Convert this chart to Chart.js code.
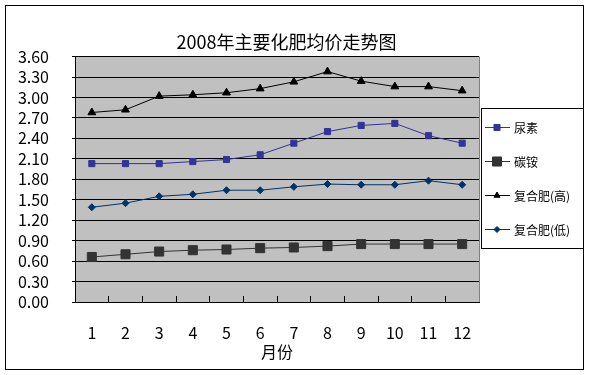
<!DOCTYPE html>
<html>
<head>
<meta charset="utf-8">
<script src="https://cdn.jsdelivr.net/npm/chart.js@4.4.1/dist/chart.umd.min.js"></script>
<style>
  html, body { margin: 0; padding: 0; background: #fff; }
</style>
</head>
<body>
<canvas id="grafico" width="590" height="375"></canvas>
<script>
const meses = ["1", "2", "3", "4", "5", "6", "7", "8", "9", "10", "11", "12"];
const niaosu = [2.03, 2.03, 2.03, 2.06, 2.09, 2.16, 2.33, 2.50, 2.59, 2.62, 2.44, 2.33];
const tanan = [0.66, 0.70, 0.74, 0.76, 0.77, 0.79, 0.80, 0.82, 0.85, 0.85, 0.85, 0.85];
const fuheGao = [2.78, 2.82, 3.02, 3.04, 3.07, 3.13, 3.23, 3.38, 3.24, 3.16, 3.16, 3.10];
const fuheDi = [1.39, 1.45, 1.55, 1.58, 1.64, 1.64, 1.69, 1.73, 1.72, 1.72, 1.78, 1.72];

Chart.defaults.font.family = '"Noto Sans CJK SC", sans-serif';
Chart.defaults.color = "#000";

// fundo cinza da área do gráfico + moldura externa
const moldura = {
  id: "moldura",
  beforeDraw(chart) {
    const ctx = chart.ctx, a = chart.chartArea;
    ctx.save();
    ctx.fillStyle = "#fff";
    ctx.fillRect(0, 0, chart.width, chart.height);
    ctx.fillStyle = "#c0c0c0";
    ctx.fillRect(a.left, a.top, a.right - a.left, a.bottom - a.top);
    ctx.restore();
  },
  afterDraw(chart) {
    const ctx = chart.ctx, a = chart.chartArea;
    ctx.save();
    ctx.strokeStyle = "#808080";
    ctx.lineWidth = 1;
    ctx.beginPath();
    ctx.moveTo(Math.round(a.right) + 0.5, a.top);
    ctx.lineTo(Math.round(a.right) + 0.5, a.bottom);
    ctx.stroke();
    ctx.strokeStyle = "#000";
    ctx.strokeRect(5.5, 5.5, 578, 364);
    ctx.restore();
  }
};

// legenda em caixa, com linha + marcador
const legenda = {
  id: "legenda",
  afterDraw(chart) {
    const ctx = chart.ctx;
    const x0 = Math.round(chart.chartArea.right) + 2;
    ctx.save();
    ctx.fillStyle = "#fff";
    ctx.fillRect(x0 + 0.5, 108.5, 583 - x0, 140);
    ctx.strokeStyle = "#000";
    ctx.lineWidth = 1;
    ctx.strokeRect(x0 + 0.5, 108.5, 583 - x0, 140);
    ctx.font = '12px "Noto Sans CJK SC", sans-serif';
    ctx.textBaseline = "middle";
    chart.data.datasets.forEach((ds, i) => {
      const y = 127 + i * 34;
      ctx.strokeStyle = ds.borderColor;
      ctx.lineWidth = 1;
      ctx.beginPath();
      ctx.moveTo(x0 + 4, y + 0.5);
      ctx.lineTo(x0 + 29, y + 0.5);
      ctx.stroke();
      ctx.fillStyle = ds.pointBackgroundColor;
      ctx.strokeStyle = ds.pointBorderColor;
      Chart.helpers.drawPoint(ctx, {
        pointStyle: ds.pointStyle, rotation: 0,
        radius: ds.legendRadius, borderWidth: 1
      }, x0 + 16, y + 0.5);
      ctx.fillStyle = "#000";
      ctx.fillText(ds.label, x0 + 33, y + 1);
    });
    ctx.restore();
  }
};

new Chart(document.getElementById("grafico"), {
  type: "line",
  data: {
    labels: meses,
    datasets: [
      {
        label: "尿素", data: niaosu,
        borderColor: "#333399", pointBackgroundColor: "#333399", pointBorderColor: "#333399",
        borderWidth: 1, pointStyle: "rect", pointRadius: 4.3, legendRadius: 4.3
      },
      {
        label: "碳铵", data: tanan,
        borderColor: "#333333", pointBackgroundColor: "#333333", pointBorderColor: "#333333",
        borderWidth: 1, pointStyle: "rect", pointRadius: 6.4, legendRadius: 6.4
      },
      {
        label: "复合肥(高)", data: fuheGao,
        borderColor: "#000000", pointBackgroundColor: "#000000", pointBorderColor: "#000000",
        borderWidth: 1, pointStyle: "triangle", pointRadius: 4.5, legendRadius: 3.5
      },
      {
        label: "复合肥(低)", data: fuheDi,
        borderColor: "#003366", pointBackgroundColor: "#003366", pointBorderColor: "#003366",
        borderWidth: 1, pointStyle: "rectRot", pointRadius: 3.5, legendRadius: 3
      }
    ]
  },
  options: {
    responsive: false,
    animation: false,
    layout: { padding: { left: 0, right: 17, top: 0, bottom: 0 } },
    plugins: {
      legend: { display: false },
      tooltip: { enabled: false },
      title: {
        display: true,
        text: "2008年主要化肥均价走势图",
        font: { size: 18, weight: "normal" },
        color: "#000",
        padding: { top: 31, bottom: 4 }
      }
    },
    scales: {
      x: {
        type: "category",
        offset: true,
        grid: { offset: true, drawOnChartArea: false, tickLength: -6, color: "#000" },
        border: { color: "#000" },
        ticks: { padding: 27, font: { size: 16 }, color: "#000", maxRotation: 0 },
        title: { display: true, text: "月份", font: { size: 16 }, color: "#000", padding: 13 },
        afterFit(s) { s.height = 73; }
      },
      y: {
        min: 0,
        max: 3.6,
        ticks: {
          stepSize: 0.3,
          autoSkip: false,
          padding: 23,
          font: { size: 16, lineHeight: 1 },
          color: "#000",
          callback: v => Number(v).toFixed(2)
        },
        grid: { color: "#000", lineWidth: 1, tickLength: 3 },
        border: { color: "#000" },
        afterFit(s) { s.width = 75; }
      },
      y2: {
        position: "right",
        grid: { display: false },
        border: { display: false },
        ticks: { display: false },
        afterFit(s) { s.width = 94; }
      }
    }
  },
  plugins: [moldura, legenda]
});
</script>
</body>
</html>
